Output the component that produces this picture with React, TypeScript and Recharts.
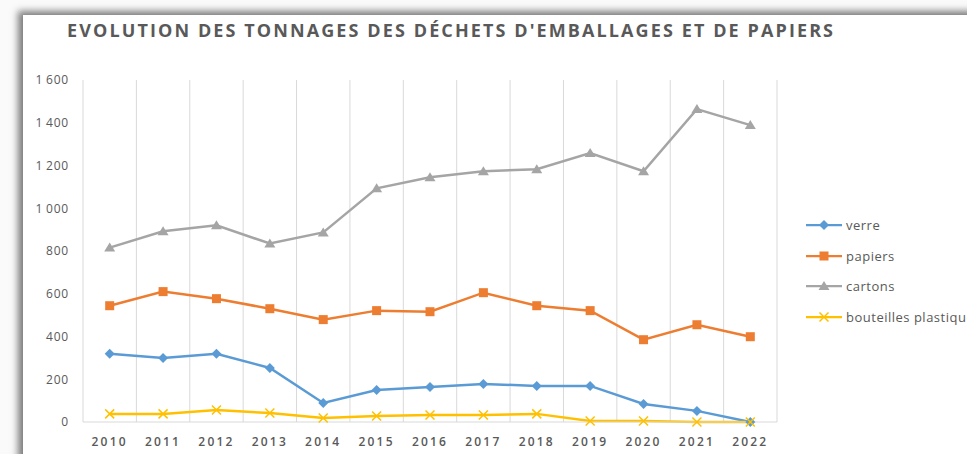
import React from 'react';
import { LineChart, Line, XAxis, YAxis, CartesianGrid, Legend } from 'recharts';

const years = ['2010', '2011', '2012', '2013', '2014', '2015', '2016', '2017', '2018', '2019', '2020', '2021', '2022'];
const verre = [319, 300, 319, 253, 89, 150, 164, 178, 169, 169, 84, 52, 0];
const papiers = [544, 610, 577, 530, 479, 521, 516, 605, 544, 521, 385, 455, 399];
const cartons = [816, 892, 920, 835, 887, 1093, 1145, 1173, 1183, 1258, 1173, 1464, 1389];
const bouteilles = [38, 38, 56, 42, 19, 28, 33, 33, 38, 5, 5, 0, 0];
const yTicks = [0, 200, 400, 600, 800, 1000, 1200, 1400, 1600];

const series = [
  { key: 'verre', color: '#5B9BD5', marker: 'diamond' },
  { key: 'papiers', color: '#ED7D31', marker: 'square' },
  { key: 'cartons', color: '#A5A5A5', marker: 'triangle' },
  { key: 'bouteilles plastiques', color: '#FFC000', marker: 'cross' },
];

const data = years.map((year, i) => ({
  year,
  verre: verre[i],
  papiers: papiers[i],
  cartons: cartons[i],
  'bouteilles plastiques': bouteilles[i],
}));

// thousands with a thin space, like the french excel sheet
const formatTick = (v: number) => String(v).replace(/\B(?=(\d{3})+(?!\d))/g, '\u2009');

const Marker = ({ type, x, y, color }: { type: string; x: number; y: number; color: string }) => {
  if (type === 'diamond') {
    return <path d={`M${x},${y - 5}L${x + 5},${y}L${x},${y + 5}L${x - 5},${y}Z`} fill={color} />;
  }
  if (type === 'square') {
    return <rect x={x - 4.5} y={y - 4.5} width={9} height={9} fill={color} />;
  }
  if (type === 'triangle') {
    return <path d={`M${x},${y - 5}L${x + 5.5},${y + 4}L${x - 5.5},${y + 4}Z`} fill={color} />;
  }
  return (
    <path d={`M${x - 4.5},${y - 4.5}L${x + 4.5},${y + 4.5}M${x + 4.5},${y - 4.5}L${x - 4.5},${y + 4.5}`} stroke={color} strokeWidth={1.5} fill="none" />
  );
};

const makeDot = (type: string, color: string) => (props: any) => {
  const { cx, cy, index } = props;
  if (cx == null || cy == null) return <g key={index} />;
  return <Marker key={index} type={type} x={cx} y={cy} color={color} />;
};

const LegendContent = () => (
  <div style={{ fontFamily: 'Open Sans, sans-serif', fontSize: 13, letterSpacing: 0.5, color: '#595959', whiteSpace: 'nowrap' }}>
    {series.map((s) => (
      <div key={s.key} style={{ display: 'flex', alignItems: 'center', height: 30.6 }}>
        <svg width={38} height={12} style={{ marginRight: 2 }}>
          <line x1={0} y1={6} x2={36} y2={6} stroke={s.color} strokeWidth={2.25} />
          <Marker type={s.marker} x={18} y={6} color={s.color} />
        </svg>
        <span>{s.key}</span>
      </div>
    ))}
  </div>
);

export default function App() {
  return (
    <div style={{ position: 'absolute', left: 0, top: 0, width: 967, height: 454, overflow: 'hidden', background: '#fafafa' }}>
      <div
        style={{
          position: 'absolute',
          left: 23,
          top: 15,
          width: 980,
          height: 470,
          background: '#fff',
          boxShadow: '-5px -4px 7px rgba(0,0,0,0.5)',
        }}
      />
      <div
        style={{
          position: 'absolute',
          left: 67,
          top: 19,
          fontFamily: 'Open Sans, sans-serif',
          fontWeight: 700,
          fontSize: 18,
          lineHeight: '22px',
          letterSpacing: 2.1,
          color: '#595959',
          whiteSpace: 'nowrap',
        }}
      >
        EVOLUTION DES TONNAGES DES DÉCHETS D'EMBALLAGES ET DE PAPIERS
      </div>
      <div style={{ position: 'absolute', left: 0, top: 0 }}>
        <LineChart width={967} height={454} data={data} margin={{ top: 80, right: 190, left: 23, bottom: 7 }}>
          <CartesianGrid
            horizontal={false}
            stroke="#d9d9d9"
            verticalCoordinatesGenerator={({ offset }: any) =>
              years.concat('').map((_, i) => offset.left + (i * offset.width) / years.length)
            }
          />
          <XAxis
            dataKey="year"
            scale="band"
            height={25}
            axisLine={{ stroke: '#d9d9d9' }}
            tickLine={false}
            tickSize={0}
            tickMargin={15}
            tick={{ fill: '#595959', fontSize: 12, fontWeight: 600, fontFamily: 'Open Sans, sans-serif', letterSpacing: 2.2 }}
          />
          <YAxis
            width={60}
            domain={[0, 1600]}
            ticks={yTicks}
            tickFormatter={formatTick}
            axisLine={false}
            tickLine={false}
            tickSize={0}
            tickMargin={14}
            tick={{ fill: '#595959', fontSize: 12, fontFamily: 'Open Sans, sans-serif', letterSpacing: 0.8 }}
          />
          <Legend
            layout="horizontal"
            align="center"
            verticalAlign="middle"
            content={<LegendContent />}
            wrapperStyle={{ left: 806, top: 210, width: 'auto' }}
          />
          {series.map((s) => (
            <Line
              key={s.key}
              dataKey={s.key}
              stroke={s.color}
              strokeWidth={2.5}
              dot={makeDot(s.marker, s.color)}
              activeDot={false}
              isAnimationActive={false}
            />
          ))}
        </LineChart>
      </div>
    </div>
  );
}
